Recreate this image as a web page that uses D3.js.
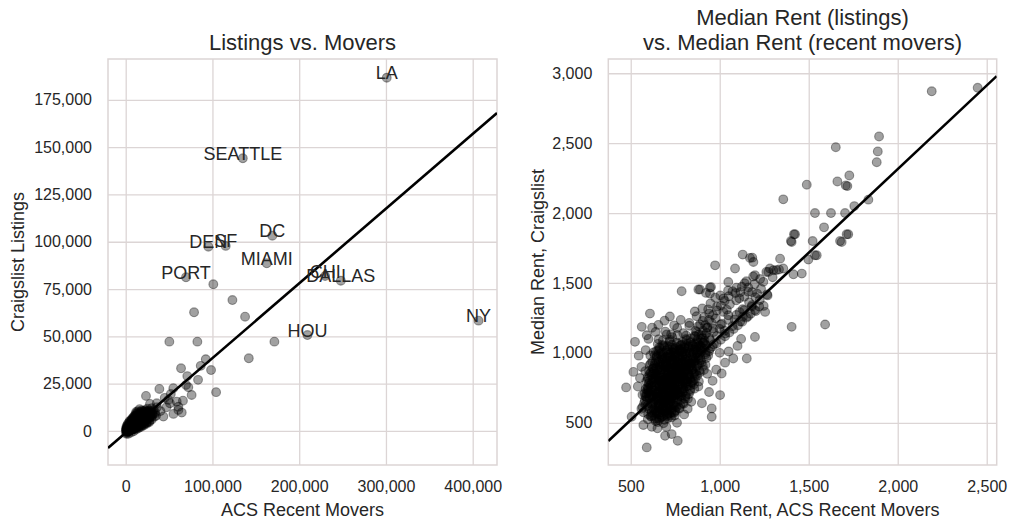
<!DOCTYPE html>
<html><head><meta charset="utf-8">
<script src="https://cdn.jsdelivr.net/npm/d3@7"></script>
<style>
body{margin:0;background:#fff;}
text{font-family:"Liberation Sans",Arial,Helvetica,sans-serif;fill:#262626;}
</style>
</head><body>
<svg id="chart" width="1012" height="523"></svg>
<script>
// ---------- DATA ----------
const leftTitle = ["Listings vs. Movers"];
const rightTitle = ["Median Rent (listings)", "vs. Median Rent (recent movers)"];
const leftXLabel = "ACS Recent Movers";
const leftYLabel = "Craigslist Listings";
const rightXLabel = "Median Rent, ACS Recent Movers";
const rightYLabel = "Median Rent, Craigslist";

const leftXTicks = [0, 100000, 200000, 300000, 400000];
const leftYTicks = [0, 25000, 50000, 75000, 100000, 125000, 150000, 175000];
const rightXTicks = [500, 1000, 1500, 2000, 2500];
const rightYTicks = [500, 1000, 1500, 2000, 2500, 3000];

// labelled metros
const cityNames = ["LA","SEATTLE","DC","DEN","SF","MIAMI","PORT","CHI","DALLAS","HOU","NY"];
const cityMovers = [300900,135000,169000,95300,115300,162600,69500,229900,248000,209500,406700];
const cityListings = [186700,144100,103200,97400,97800,88600,81200,81900,79400,50700,58300];

// other metros: [movers, listings]
const otherMetros = [
[101000,77500],[123000,69200],[78800,62700],[137600,60400],[50300,47200],[82600,47200],[171400,47200],
[141900,38400],[92300,37900],[63800,33100],[98400,32200],[86500,34400],[83400,27000],[71000,29000],
[69500,24300],[104200,20500],[38800,22200],[54900,22600],[76000,19000],[72200,23100],[23400,18500],
[60700,12800],[43400,7600],[64600,9700],[58800,15500],[49100,16400],[35800,14600],[28000,14300],
[60700,11100],[51000,14600],[30000,12000],[40000,10500],[47000,12500],[55000,9000],[35000,8000],
[25000,10000],[45000,17500],[52000,19500],[66000,16000],
[1200,300],[2500,700],[3800,500],[5100,1200],[6400,900],[7700,1800],[9000,1400],[10300,2300],[11600,1900],
[12900,3100],[14200,2600],[15500,3800],[16800,3300],[18100,4600],[19400,4100],[20700,5400],[22000,5000],
[23300,6300],[24600,5800],[25900,7200],[27200,6700],[28500,8100],[29800,7500],[31100,9000],
[1800,1100],[3200,1600],[4600,2200],[6000,2700],[7400,3300],[8800,3900],[10200,4400],[11600,5000],
[13000,5600],[14400,6200],[15800,6900],[17200,7400],[18600,8100],[20000,8700],[21400,9300],[22800,9900],
[2200,-400],[4000,100],[5800,400],[7600,700],[9400,1000],[11200,1300],[13000,1700],[14800,2100],
[16600,2500],[18400,3000],[20200,3500],[22000,3900],[23800,4400],[25600,4900],[27400,5300],
[800,600],[2000,1900],[3500,2700],[5000,3500],[6500,4200],[8000,5100],[9500,5800],[11000,6600],
[12500,7400],[14000,8200],[15500,9000],[17000,10100],[18500,10800],
[1500,-100],[3000,200],[4500,1000],[6000,1500],[7500,2100],[9000,2600],[10500,3200],[12000,3600],
[13500,4300],[15000,4800],[16500,5500],[18000,6000],[19500,6600],[21000,7100],[24000,8200],[26500,9100],
[32000,11000],[34000,10000],[36000,12500],
[500,100],[1000,800],[1600,400],[2800,1200],[4200,1500],[5500,2000],[7000,2500],[8500,3000],[10000,3500],[11500,4000],
[700,200],[1400,900],[2100,300],[2700,1500],[3400,900],[4100,2000],[4800,1300],[5500,2600],[6200,1800],[6900,3100],
[7600,2400],[8300,3700],[9000,3000],[9700,4300],[10400,3600],[11100,4900],[11800,4200],[12500,5500],[13200,4800],
[13900,6100],[14600,5400],[15300,6700],[16000,6000],[16700,7300],[17400,6600],[18100,7900],[18800,7200],[19500,8500],
[20200,7800],[21600,8700],[23000,9400],[24500,10200],[26000,10800],[27500,9800],[29000,10500],
[1100,1500],[2400,2300],[3700,3100],[5000,4000],[6300,4900],[7600,5700],[8900,6500],[10200,7300],[11500,8100],
[12800,8800],[14100,9600],
[1900,-600],[3600,-200],[5300,300],[7000,600],[8700,1200],[10400,1700],[12100,2200],[13800,2800],[15500,3300],
[17200,3900],[18900,4400],[20600,4900],[22300,5600],[24100,6400],[26000,7100],[28000,7600],[30500,8300],
[2000,3000],[4000,4500],[6000,5500],[8000,6800],[10000,8000],[12000,9300],[14000,10500],[3000,-1500],[6000,-800],
[9000,-200],[12000,800],[15000,1500],[18000,2200],[21000,3000],[24000,3800],[27000,4600],[30000,6000],[33000,7500],
[500,-800],[1000,2500],[2500,3800],[4500,5200],[7000,6200],[9500,7500],[12000,10000],[16000,11500],[20000,10500],
[25000,11800],[300,1200],[800,-1500],[1800,400],[3300,1200],[4900,2500],[6600,3600],[8300,4500],[9900,5200],
[11400,6000],[13100,7000],[14700,7800],[16300,8400],[17900,9200],[19600,9800],[21200,10400],[23000,11000],
[25500,8600],[27800,9000],[30200,9700],[33500,9200],[1300,100],[2600,-300],[4300,600],[5900,1000],[7800,1500],
[9600,2000],[11300,2800],[13600,3500],[15900,4200],[17800,5000],[19900,5800],[22500,6800]
];

// median rents: [ACS recent movers, Craigslist]
const rents = [
[612,548],[645,532],[668,556],[690,521],[705,548],[728,538],[652,505],[684,497],[634,571],[716,566],[747,552],[596,526],
[603,598],[622,617],[641,585],[659,633],[677,602],[694,580],[712,626],[731,594],[756,612],[778,628],[640,640],[667,575],[701,611],[585,633],[749,581],[688,641],
[592,668],[611,702],[628,655],[646,689],[663,716],[679,662],[697,694],[714,671],[733,707],[751,683],[770,699],[792,714],[621,684],[655,648],[688,709],[725,655],[808,688],[578,712],
[584,742],[601,781],[618,756],[636,729],[653,792],[671,748],[688,771],[706,738],[723,786],[741,759],[759,731],[777,777],[796,751],[815,794],[836,768],[645,763],[698,799],[731,725],[764,796],[612,723],[857,744],
[595,826],[613,858],[631,812],[649,871],[667,838],[685,809],[703,852],[721,829],[739,876],[757,815],[775,861],[793,832],[811,874],[832,819],[853,851],[874,838],[640,845],[695,877],[748,848],[806,806],[582,869],
[606,912],[625,889],[643,941],[661,905],[679,954],[697,921],[715,893],[733,948],[751,909],[769,934],[787,887],[805,952],[823,917],[842,898],[863,944],[885,925],[656,882],[708,958],[760,881],[820,960],[905,907],
[628,1003],[646,975],[664,1030],[682,988],[700,1018],[718,969],[736,1036],[754,996],[772,1022],[790,973],[808,1011],[826,1039],[845,985],[866,1019],[888,997],[912,1031],[935,982],[690,962],[749,966],[801,1038],
[652,1064],[681,1091],[707,1049],[733,1112],[759,1073],[785,1058],[811,1099],[837,1076],[863,1117],[889,1055],[915,1086],[941,1108],[967,1062],[720,1083],[874,1093],
[694,1152],[727,1133],[761,1178],[795,1141],[829,1194],[863,1158],[897,1127],[931,1183],[965,1149],[999,1172],[1031,1138],[744,1197],[880,1190],
[781,1236],[829,1214],[870,1262],[905,1229],[941,1281],[977,1247],[1012,1208],[1048,1269],[1083,1238],[1112,1291],[955,1214],[1020,1293],[860,1296],[1130,1258],
[902,1318],[948,1354],[985,1331],[1021,1389],[1057,1347],[1093,1376],[1129,1312],[1165,1362],[1201,1398],[1040,1308],[1110,1390],[1180,1330],[975,1395],
[1003,1411],[1047,1446],[1088,1428],[1124,1473],[1160,1437],[1196,1491],[1232,1459],[1266,1418],[1140,1498],[1210,1424],
[1150,1512],[1188,1546],[1227,1528],[1262,1579],[1297,1541],[1318,1592],[1245,1508],[1282,1603],
[618,573],[657,561],[699,589],[742,627],[627,640],[673,688],[714,649],[761,667],[603,694],[648,719],[695,733],[739,702],[782,741],[629,788],[674,806],[717,768],[763,820],[808,779],[850,803],[606,848],[651,829],[693,896],[736,863],[781,903],[825,883],[866,867],[621,936],[667,919],[710,984],[754,941],[799,996],[845,955],[890,969],[642,1012],[688,1042],[731,1005],[778,1051],[822,1065],[868,1043],[910,1074],[674,963],[739,1021],[786,936],[703,851],[744,779],[661,757],[709,683],[683,623],[726,606],[594,755],[587,795],[632,870],[676,975],[719,1095],[762,1128],[812,1124],[851,1002],[894,948],[922,1003],[658,602],[637,706],[698,812],[748,897],[798,858],[840,922],[885,874],[925,963],[610,981],[657,1097],[702,1131],
[652,671],[691,655],[734,689],[776,716],[664,738],[705,752],[748,741],[791,772],[657,802],[700,789],[741,823],[784,845],[827,841],[668,859],[711,871],[754,834],[797,918],[685,916],[726,929],[772,962],[815,939],[662,897],[703,906],[746,981],[790,1007],[680,744],[722,716],[760,705],[643,821],[683,790],[728,846],[771,884],[812,901],[854,925],[700,947],[745,912],[690,690],[735,769],[780,808],[825,826],
[566,612],[579,661],[588,707],[598,748],[607,803],[617,842],[626,887],[636,925],[645,968],[654,1018],
[571,575],[583,689],[599,731],[609,769],[622,814],[633,853],[644,898],[655,941],[666,992],[677,1057],
[616,542],[629,598],[641,664],[652,712],[663,771],[674,824],[685,877],[696,935],[707,1001],[718,1046],
[640,512],[652,577],[664,636],[676,698],[688,751],[700,815],[712,862],[724,921],[736,975],[748,1032],
[661,531],[673,592],[685,658],[697,717],[709,776],[721,833],[733,888],[745,947],[757,1003],[769,1064],
[683,547],[695,609],[707,668],[719,729],[731,792],[743,851],[755,906],[767,958],[779,1013],[791,1078],
[706,559],[718,621],[730,679],[742,741],[754,806],[766,866],[778,917],[790,981],[802,1034],[814,1091],
[729,571],[741,639],[753,697],[765,758],[777,819],[789,877],[801,935],[813,992],[825,1047],[837,1104],
[752,588],[764,651],[776,689],[788,761],[800,828],[812,889],[824,944],[836,1003],[848,1058],[860,1121],
[775,602],[787,667],[799,729],[811,792],[823,851],[835,908],[847,966],[859,1024],[871,1077],[883,1132],
[798,636],[810,703],[822,763],[834,812],[846,879],[858,937],[870,991],[882,1048],[894,1101],[906,1158],
[821,671],[833,738],[845,787],[857,855],[869,904],[881,962],[893,1019],[905,1072],[917,1127],[929,1178],
[598,561],[621,552],[647,568],[672,541],[697,563],[722,550],[744,571],[635,529],[660,518],[709,532],
[594,621],[614,637],[636,609],[659,622],[681,637],[703,604],[725,633],[748,620],[771,608],[793,641],[617,588],[688,591],
[588,684],[607,672],[629,697],[651,677],[673,671],[695,703],[717,690],[739,673],[761,716],[783,694],[805,671],[827,705],[599,716],[706,666],
[592,735],[614,748],[636,770],[658,724],[680,758],[702,776],[724,745],[746,728],[768,767],[790,739],[812,761],[834,728],[856,776],[623,733],[712,729],
[597,812],[619,789],[641,801],[663,818],[685,797],[707,823],[729,806],[751,790],[773,829],[795,803],[817,817],[839,790],[861,812],[883,795],[672,783],
[603,871],[625,853],[647,842],[669,879],[691,858],[713,845],[735,871],[757,854],[779,840],[801,866],[823,853],[845,879],[867,846],[889,862],[911,878],
[612,922],[634,908],[656,935],[678,918],[700,901],[722,940],[744,926],[766,913],[788,948],[810,924],[832,908],[854,937],[876,911],[898,932],[920,915],
[634,981],[656,996],[678,1002],[700,973],[722,991],[744,1007],[766,982],[788,1004],[810,975],[832,997],[854,1011],[876,978],[898,1013],[920,990],[940,1011],
[660,1038],[684,1052],[708,1029],[732,1058],[756,1041],[780,1026],[804,1056],[828,1031],[852,1049],[876,1064],[900,1036],[924,1049],[946,1031],
[905,1105],[925,1142],[948,1088],[962,1175],[984,1121],[1005,1203],[1027,1158],[1049,1236],[1071,1191],[1093,1271],
[1115,1224],[1137,1305],[1159,1262],[1181,1341],[1203,1299],[1225,1378],[1247,1336],[1269,1411],
[918,1198],[940,1236],[962,1271],[984,1303],[1006,1339],[1028,1372],[1050,1405],[1072,1441],[1094,1466],[1116,1435],
[1138,1401],[1160,1468],[1182,1434],
[958,1045],[982,1067],[1006,1094],[1030,1119],[1054,1146],[1078,1171],[1102,1198],[1126,1223],[1150,1252],[1174,1279],
[1198,1306],[1222,1331],[870,1150],[890,1203],[912,1255],[935,1311],[860,1066],[875,1010],[895,1042],[920,1060],
[474,753],[515,864],[524,1079],[562,1186],[590,1126],[608,1281],[545,980],[560,900],[552,820],[566,700],[540,760],[575,640],[505,543],[560,600],[584,1020],[600,1100],[620,1180],[655,1200],[690,1230],[720,1260],[640,1150],
[571,484],[618,471],[693,407],[730,419],[764,371],[590,324],[650,460],[700,470],[760,500],[800,560],[820,600],[840,650],
[955,543],[955,603],[1002,698],[1011,853],[1076,960],[1152,960],[1198,1114],[1404,1186],[1592,1203],[960,800],[980,880],[1030,930],[1050,1010],[1100,1050],[1120,1100],[1000,1000],[940,720],[900,640],[880,760],[930,850],
[786,1441],[889,1453],[945,1424],[974,1626],[1086,1603],[1048,1507],[1129,1703],[1183,1681],[1170,1679],[945,1467],[1255,1293],[1189,1650],[1339,1674],[1357,1603],[1301,1591],[1273,1579],[1198,1555],[1333,1596],[1414,1562],[1461,1567],[880,1453],[951,1471],[923,1429],
[2191,2871],[2449,2896],[1895,2548],[1652,2471],[1888,2441],[1882,2364],[1728,2269],[1661,2226],[1708,2198],[1717,2193],[1489,2203],[1357,2098],[1835,2096],[1756,2050],[1535,2000],[1625,2000],[1704,2000],[1586,1898],[1722,1848],[1676,1800],[1417,1848],[1400,1800],[1522,1800],[1535,1698],[1498,1667],[1404,1793],[1423,1848],[1685,1793],[1713,1848],[1545,1698]
];

// least-squares fit lines: [slope, intercept]
const fitListings = [0.395, -1000];
const fitRent = [1.1965, -78.5];

// ---------- DRAW ----------
const svg = d3.select("#chart");
const gridColor = "#dcd5d5";
const fmt = d3.format(",");

function panel(cfg) {
  const x = d3.scaleLinear().domain(cfg.xDomain).range([cfg.left, cfg.right]);
  const y = d3.scaleLinear().domain(cfg.yDomain).range([cfg.bottom, cfg.top]);
  const g = svg.append("g");
  const clipId = "clip" + cfg.id;
  svg.append("clipPath").attr("id", clipId).append("rect")
    .attr("x", cfg.left).attr("y", cfg.top)
    .attr("width", cfg.right - cfg.left).attr("height", cfg.bottom - cfg.top);

  g.append("g").attr("transform", `translate(0,${cfg.bottom})`)
    .call(d3.axisBottom(x).tickValues(cfg.xTicks).tickSize(-(cfg.bottom - cfg.top)).tickFormat(fmt).tickPadding(16))
    .call(a => a.select(".domain").remove())
    .call(a => a.selectAll("line").attr("stroke", gridColor).attr("stroke-width", 1.3))
    .call(a => a.selectAll("text").attr("font-size", 16).attr("fill", "#262626")
      .attr("font-family", '"Liberation Sans",Arial,sans-serif'));
  g.append("g").attr("transform", `translate(${cfg.left},0)`)
    .call(d3.axisLeft(y).tickValues(cfg.yTicks).tickSize(-(cfg.right - cfg.left)).tickFormat(fmt).tickPadding(16))
    .call(a => a.select(".domain").remove())
    .call(a => a.selectAll("line").attr("stroke", gridColor).attr("stroke-width", 1.3))
    .call(a => a.selectAll("text").attr("font-size", 16).attr("fill", "#262626")
      .attr("font-family", '"Liberation Sans",Arial,sans-serif'));

  g.append("rect").attr("x", cfg.left).attr("y", cfg.top)
    .attr("width", cfg.right - cfg.left).attr("height", cfg.bottom - cfg.top)
    .attr("fill", "none").attr("stroke", gridColor).attr("stroke-width", 1.5);

  const inner = g.append("g").attr("clip-path", `url(#${clipId})`);
  inner.selectAll("circle").data(cfg.points).join("circle")
    .attr("cx", d => x(d[0])).attr("cy", d => y(d[1])).attr("r", 4.4)
    .attr("fill", "#000").attr("fill-opacity", 0.37)
    .attr("stroke", "#000").attr("stroke-opacity", 0.37).attr("stroke-width", 1.1);

  const x0 = cfg.xDomain[0], x1 = cfg.xDomain[1];
  inner.append("line")
    .attr("x1", x(x0)).attr("y1", y(cfg.fit[0] * x0 + cfg.fit[1]))
    .attr("x2", x(x1)).attr("y2", y(cfg.fit[0] * x1 + cfg.fit[1]))
    .attr("stroke", "#000").attr("stroke-width", 2.6);

  const cx = (cfg.left + cfg.right) / 2;
  cfg.title.forEach((t, i) => {
    g.append("text").attr("x", cx).attr("y", 50 - (cfg.title.length - 1 - i) * 25.5)
      .attr("text-anchor", "middle").attr("font-size", 22).text(t);
  });
  g.append("text").attr("x", cx).attr("y", 516).attr("text-anchor", "middle")
    .attr("font-size", 18).text(cfg.xLabel);
  g.append("text").attr("transform", `translate(${cfg.yLabelX},${(cfg.top + cfg.bottom) / 2}) rotate(-90)`)
    .attr("text-anchor", "middle").attr("dy", "0.35em").attr("font-size", 18).text(cfg.yLabel);
  return {x, y, g};
}

const L = panel({
  id: "L", left: 108, right: 497, top: 59, bottom: 465,
  xDomain: [-20400, 428000], yDomain: [-18000, 196600],
  xTicks: leftXTicks, yTicks: leftYTicks,
  points: otherMetros.concat(cityNames.map((n, i) => [cityMovers[i], cityListings[i]])),
  fit: fitListings, title: leftTitle, xLabel: leftXLabel, yLabel: leftYLabel, yLabelX: 18
});
L.g.selectAll("text.city").data(cityNames).join("text").attr("class", "city")
  .attr("x", (d, i) => L.x(cityMovers[i])).attr("y", (d, i) => L.y(cityListings[i]) + 1.5)
  .attr("text-anchor", "middle").attr("font-size", 18).attr("fill", "#111").text(d => d);

panel({
  id: "R", left: 608.3, right: 996.7, top: 59, bottom: 465,
  xDomain: [374, 2556], yDomain: [198, 3102],
  xTicks: rightXTicks, yTicks: rightYTicks,
  points: rents, fit: fitRent, title: rightTitle, xLabel: rightXLabel, yLabel: rightYLabel, yLabelX: 538
});
</script>
</body></html>
